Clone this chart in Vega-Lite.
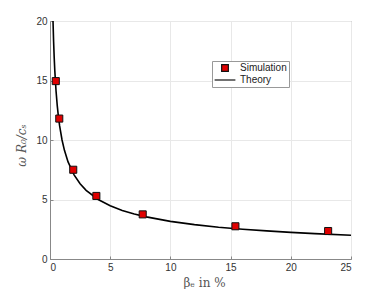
{
  "$schema": "https://vega.github.io/schema/vega-lite/v6.json",
  "autosize": "none",
  "padding": {"left": 50, "top": 21, "right": 37, "bottom": 30},
  "width": 301,
  "height": 238,
  "background": "white",
  "config": {
    "view": {"stroke": "#888", "strokeWidth": 1},
    "axis": {
      "labelFont": "Liberation Sans",
      "labelFontSize": 10,
      "labelColor": "#333",
      "labelPadding": 6,
      "domainColor": "#888",
      "tickColor": "#888",
      "tickSize": -3,
      "gridColor": "#e8e8e8",
      "titleFont": "DejaVu Serif",
      "titleFontStyle": "italic",
      "titleFontWeight": "normal",
      "titleFontSize": 12,
      "titleColor": "#555"
    },
    "legend": {
      "orient": "none",
      "legendX": 162,
      "legendY": 40,
      "fillColor": "white",
      "strokeColor": "#999",
      "padding": 2,
      "rowPadding": 1,
      "labelFont": "Liberation Sans",
      "labelFontSize": 10,
      "labelColor": "#222",
      "symbolSize": 45,
      "symbolOffset": 6,
      "symbolStrokeWidth": 1.2,
      "labelOffset": 10
    }
  },
  "datasets": {
    "sim": [
      {"beta": 0.48, "omega": 14.95, "series": "Simulation"},
      {"beta": 0.77, "omega": 11.8, "series": "Simulation"},
      {"beta": 1.93, "omega": 7.5, "series": "Simulation"},
      {"beta": 3.85, "omega": 5.3, "series": "Simulation"},
      {"beta": 7.7, "omega": 3.75, "series": "Simulation"},
      {"beta": 15.4, "omega": 2.75, "series": "Simulation"},
      {"beta": 23.1, "omega": 2.35, "series": "Simulation"}
    ],
    "theory": [
      {"beta": 0.25, "omega": 20.0},
      {"beta": 0.3, "omega": 18.26},
      {"beta": 0.35, "omega": 16.9},
      {"beta": 0.4, "omega": 15.81},
      {"beta": 0.5, "omega": 14.14},
      {"beta": 0.6, "omega": 12.91},
      {"beta": 0.7, "omega": 11.95},
      {"beta": 0.8, "omega": 11.18},
      {"beta": 1.0, "omega": 10.0},
      {"beta": 1.2, "omega": 9.13},
      {"beta": 1.5, "omega": 8.16},
      {"beta": 2.0, "omega": 7.07},
      {"beta": 2.5, "omega": 6.32},
      {"beta": 3.0, "omega": 5.77},
      {"beta": 4.0, "omega": 5.0},
      {"beta": 5.0, "omega": 4.47},
      {"beta": 6.0, "omega": 4.08},
      {"beta": 7.0, "omega": 3.78},
      {"beta": 8.0, "omega": 3.54},
      {"beta": 10.0, "omega": 3.16},
      {"beta": 12.0, "omega": 2.89},
      {"beta": 14.0, "omega": 2.67},
      {"beta": 16.0, "omega": 2.5},
      {"beta": 18.0, "omega": 2.36},
      {"beta": 20.0, "omega": 2.24},
      {"beta": 22.0, "omega": 2.13},
      {"beta": 25.0, "omega": 2.0}
    ]
  },
  "layer": [
    {
      "data": {"name": "theory"},
      "mark": {"type": "line", "color": "black", "strokeWidth": 1.6, "clip": true},
      "encoding": {
        "x": {"field": "beta", "type": "quantitative", "scale": {"domain": [0, 25], "nice": false},
          "axis": {"values": [0, 5, 10, 15, 20, 25], "title": "βₑ  in %", "titlePadding": 5, "titleFontStyle": "normal", "titleX": 154}},
        "y": {"field": "omega", "type": "quantitative", "scale": {"domain": [0, 20], "nice": false},
          "axis": {"values": [0, 5, 10, 15, 20], "title": "ω  R₀/cₛ", "titlePadding": 7, "titleY": 124}}
      }
    },
    {
      "data": {"name": "sim"},
      "mark": {"type": "point", "filled": true, "size": 50, "stroke": "#111", "strokeWidth": 1, "opacity": 1},
      "encoding": {
        "x": {"field": "beta", "type": "quantitative"},
        "y": {"field": "omega", "type": "quantitative"},
        "shape": {
          "field": "series", "type": "nominal",
          "scale": {"domain": ["Simulation", "Theory"], "range": ["square", "M-3.1,0H3.1"]},
          "legend": {"title": null}
        },
        "color": {
          "field": "series", "type": "nominal",
          "scale": {"domain": ["Simulation", "Theory"], "range": ["#e00000", "black"]},
          "legend": {"title": null}
        }
      }
    }
  ]
}
